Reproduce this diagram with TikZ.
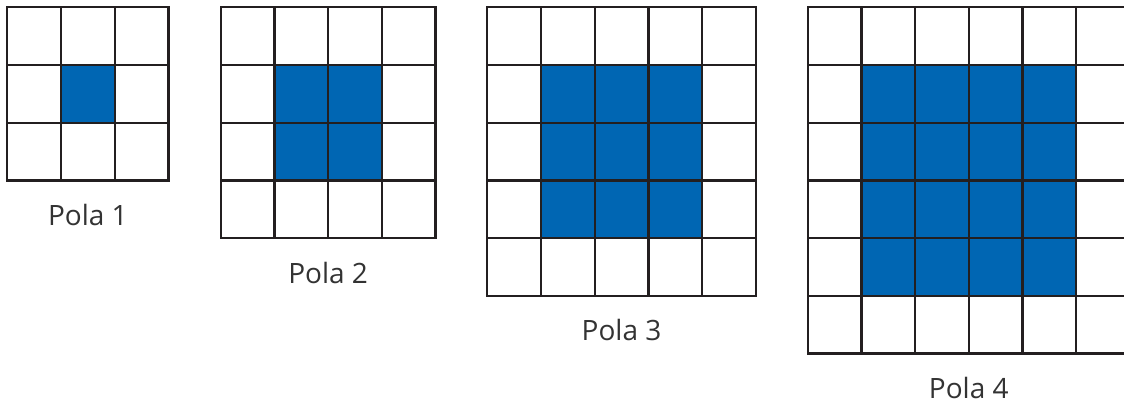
\documentclass[tikz,border=0pt]{standalone}
\usepackage{fontspec}
\setmainfont{Open Sans}
\usetikzlibrary{positioning}

\definecolor{cellblue}{HTML}{0066B3}
\definecolor{penline}{HTML}{231F20}
\definecolor{labeltext}{HTML}{333333}

\begin{document}
\begin{tikzpicture}[
  x=53.7pt, y=-57.7pt,
  cell/.style={fill=cellblue},
  gridpen/.style={draw=penline, line width=2.2pt, line cap=rect},
  caption/.style={font=\fontsize{28}{34}\selectfont, text=labeltext,
    anchor=base, inner sep=0pt}
]
\useasboundingbox (0,0) rectangle (20.931,7.071);
\clip (0,0) rectangle (20.931,7.071);

% Grids: n x n blue core inside an (n+2) x (n+2) board
\foreach \n/\x in {1/0.136, 2/4.110, 3/9.075, 4/15.041} {
  \pgfmathtruncatemacro{\m}{\n+2}
  \pgfmathtruncatemacro{\k}{\n+1}
  \begin{scope}[shift={(\x,0.127)}]
    \fill[cell] (1,1) rectangle (\k,\k);
    \foreach \i in {1,...,\k} {
      \draw[gridpen] (\i,0) -- (\i,\m);
      \draw[gridpen] (0,\i) -- (\m,\i);
    }
    \draw[gridpen] (0,0) rectangle (\m,\m);
    \node[caption] (pola\n) at ({\m/2},{\m+0.78}) {Pola \n};
  \end{scope}
}

\end{tikzpicture}
\end{document}
